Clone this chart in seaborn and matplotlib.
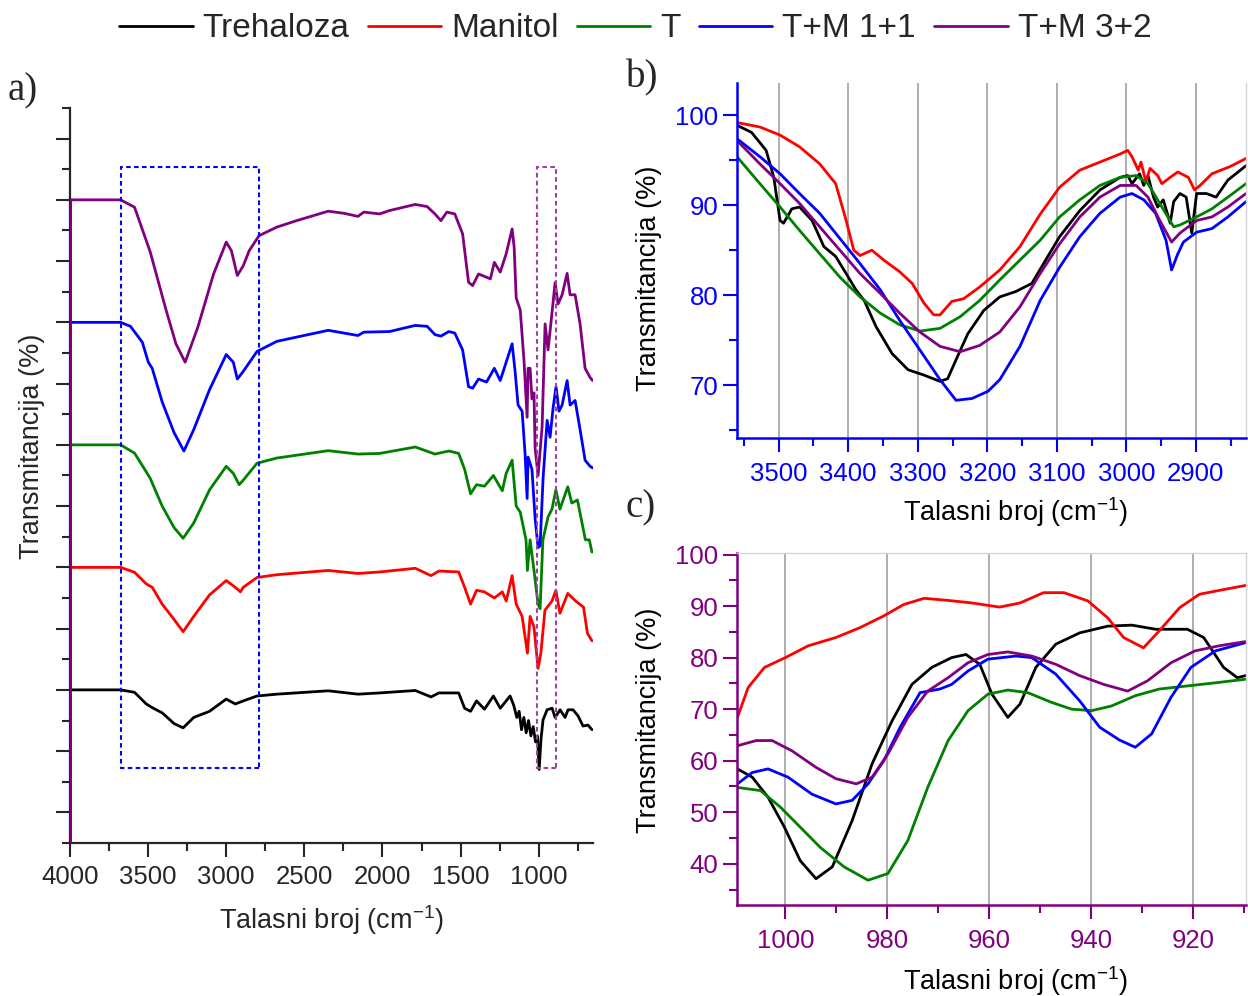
import numpy as np
import pandas as pd
import matplotlib
matplotlib.use("Agg")
import matplotlib.pyplot as plt
import seaborn as sns
from matplotlib.ticker import MultipleLocator, FixedLocator, NullFormatter
from matplotlib.patches import Rectangle
from matplotlib.lines import Line2D

# ---------------- data ----------------
SERIES = ["Trehaloza", "Manitol", "T", "T+M 1+1", "T+M 3+2"]
COLORS = ["#000000", "#FF0000", "#008000", "#0000FF", "#800080"]
OFFSETS_A = [5, 9, 13, 17, 21]          # stacking offsets in panel a (arb. units)

# panel a: wavenumber and deviation from each trace's baseline
A_BLACK_WN = [4000, 3676, 3587, 3512, 3474, 3410, 3334, 3276, 3208, 3107, 3000, 2942, 2891, 2803, 2676,
              2347, 2157, 2018, 1790, 1689, 1639, 1512, 1474, 1436, 1398, 1347, 1290, 1246, 1183, 1160,
              1140, 1125, 1110, 1095, 1080, 1065, 1050, 1035, 1020, 1008, 997, 985, 972, 946, 914, 895,
              863, 831, 812, 780, 748, 716, 684, 659]
A_BLACK_Y = [0, 0, -0.08, -0.46, -0.58, -0.75, -1.1, -1.24, -0.9, -0.7, -0.3, -0.46, -0.36, -0.2, -0.14,
             -0.03, -0.14, -0.1, -0.02, -0.23, -0.1, -0.1, -0.6, -0.7, -0.36, -0.63, -0.2, -0.6, -0.2, -0.5,
             -0.9, -0.7, -1.3, -0.9, -1.4, -1.0, -1.5, -1.2, -1.7, -1.5, -2.6, -1.6, -0.98, -0.65, -0.6, -0.9,
             -0.65, -0.9, -0.65, -0.65, -0.85, -1.18, -1.15, -1.3]

A_RED_WN = [4000, 3676, 3587, 3512, 3474, 3410, 3334, 3276, 3208, 3107, 3000, 2942, 2909, 2891, 2803,
            2676, 2347, 2157, 2018, 1790, 1689, 1639, 1512, 1474, 1436, 1398, 1347, 1284, 1233, 1208,
            1170, 1144, 1106, 1072, 1055, 1030, 1004, 986, 960, 915, 890, 864, 814, 763, 713, 688, 659]
A_RED_Y = [0, 0, -0.16, -0.54, -0.65, -1.2, -1.7, -2.1, -1.6, -0.9, -0.43, -0.65, -0.8, -0.65, -0.33,
           -0.24, -0.1, -0.2, -0.15, -0.03, -0.27, -0.12, -0.15, -0.65, -1.2, -0.75, -0.8, -1.0, -0.8, -1.1,
           -0.27, -1.2, -1.6, -2.8, -1.6, -1.95, -3.3, -2.8, -1.4, -1.1, -0.75, -1.5, -0.85, -1.1, -1.3,
           -2.15, -2.4]

A_GREEN_WN = [4000, 3676, 3587, 3512, 3486, 3410, 3334, 3276, 3208, 3107, 3000, 2955, 2917, 2891, 2803,
              2676, 2347, 2157, 2018, 1790, 1664, 1575, 1512, 1474, 1436, 1398, 1347, 1290, 1233, 1208,
              1170, 1144, 1118, 1081, 1072, 1055, 1030, 1004, 991, 973, 940, 915, 890, 864, 814, 788,
              752, 701, 676, 659]
A_GREEN_Y = [0, 0, -0.27, -0.88, -1.1, -2.0, -2.7, -3.05, -2.55, -1.47, -0.7, -0.93, -1.3, -1.15, -0.6,
             -0.43, -0.19, -0.3, -0.28, -0.07, -0.3, -0.2, -0.28, -0.8, -1.6, -1.3, -1.35, -1.0, -1.5, -0.93,
             -0.5, -2.0, -2.2, -3.1, -4.1, -3.1, -4.1, -5.2, -5.35, -3.1, -2.35, -2.1, -1.47, -2.1, -1.37,
             -1.9, -1.8, -3.1, -3.1, -3.5]

A_BLUE_WN = [4000, 3676, 3613, 3537, 3499, 3474, 3410, 3334, 3271, 3208, 3107, 3000, 2955, 2929, 2891,
             2803, 2676, 2347, 2157, 2119, 1955, 1790, 1714, 1664, 1626, 1575, 1537, 1487, 1449, 1423,
             1385, 1334, 1284, 1246, 1208, 1170, 1151, 1132, 1106, 1087, 1074, 1068, 1043, 1023, 1004,
             991, 972, 946, 927, 908, 889, 870, 850, 818, 799, 767, 735, 703, 671, 655]
A_BLUE_Y = [0, 0, -0.13, -0.65, -1.3, -1.5, -2.6, -3.6, -4.2, -3.5, -2.2, -1.05, -1.3, -1.85, -1.6,
            -0.95, -0.62, -0.26, -0.43, -0.32, -0.3, -0.1, -0.13, -0.4, -0.45, -0.3, -0.35, -0.9, -2.1, -2.15,
            -1.85, -1.95, -1.5, -1.9, -1.3, -0.7, -1.6, -2.7, -2.9, -4.3, -5.75, -4.4, -4.8, -6.4, -7.35,
            -7.3, -5.1, -3.2, -3.75, -2.8, -2.1, -2.9, -2.7, -1.9, -2.7, -2.55, -3.5, -4.5, -4.7, -4.75]

A_PURPLE_WN = [4000, 3676, 3587, 3512, 3486, 3385, 3322, 3263, 3182, 3081, 3000, 2967, 2929, 2891, 2853,
               2790, 2676, 2550, 2347, 2246, 2157, 2119, 2018, 1955, 1790, 1714, 1664, 1626, 1588, 1537,
               1487, 1449, 1423, 1385, 1347, 1309, 1284, 1246, 1208, 1170, 1157, 1144, 1118, 1094, 1074,
               1068, 1055, 1043, 1030, 1023, 1004, 978, 959, 940, 914, 895, 876, 850, 818, 799, 767, 735,
               703, 671, 655]
A_PURPLE_Y = [0, 0, -0.24, -1.33, -1.71, -3.6, -4.7, -5.3, -4.16, -2.42, -1.38, -1.66, -2.47, -2.15, -1.66,
              -1.17, -0.89, -0.68, -0.37, -0.44, -0.54, -0.40, -0.46, -0.35, -0.15, -0.22, -0.46, -0.68, -0.40,
              -0.46, -1.11, -2.69, -2.8, -2.42, -2.5, -2.58, -2.04, -2.36, -1.76, -0.95, -1.55, -3.2, -3.6,
              -5.25, -7.1, -5.5, -5.5, -6.5, -6.3, -8.1, -9.0, -7.4, -4.05, -4.9, -3.65, -2.7, -3.4, -3.1,
              -2.4, -3.1, -3.1, -4.05, -5.5, -5.8, -5.9]

# zoom boxes in panel a (wavenumber range, y range)
BOX_OH = (3676, 2790)
BOX_FP = (1008, 891)
BOX_Y = (2.45, 22.06)

# panel b (OH region), transmittance %
B_BLACK_WN = [3560, 3539, 3518, 3507, 3498, 3493, 3481, 3470, 3452, 3435, 3418, 3403, 3389, 3377, 3360,
              3337, 3314, 3291, 3268, 3257, 3245, 3228, 3205, 3182, 3159, 3136, 3113, 3096, 3067, 3038,
              3009, 2998, 2992, 2981, 2975, 2969, 2961, 2955, 2947, 2937, 2932, 2923, 2914, 2906, 2899,
              2885, 2871, 2854, 2828]
B_BLACK_T = [98.9, 98.1, 96.1, 93.1, 88.3, 88.0, 89.6, 89.8, 88.3, 85.4, 84.3, 82.4, 80.6, 79.4, 76.5,
             73.5, 71.7, 71.1, 70.4, 70.7, 72.8, 75.7, 78.3, 79.8, 80.4, 81.3, 84.3, 86.5, 89.4, 91.7,
             93.1, 93.3, 92.4, 93.5, 92.2, 93.3, 90.9, 89.8, 90.6, 88.0, 90.4, 91.3, 90.9, 86.9, 91.3,
             91.3, 90.9, 92.8, 94.4]
B_RED_WN = [3560, 3527, 3498, 3470, 3441, 3418, 3403, 3392, 3383, 3366, 3349, 3326, 3308, 3291, 3277,
            3268, 3251, 3234, 3211, 3182, 3153, 3124, 3096, 3067, 3038, 3009, 2998, 2992, 2983, 2979,
            2972, 2966, 2955, 2949, 2937, 2926, 2911, 2902, 2894, 2877, 2851, 2828]
B_RED_T = [99.2, 98.7, 97.8, 96.5, 94.6, 92.4, 88.3, 85.0, 84.4, 85.0, 83.9, 82.6, 81.3, 79.1, 77.8,
           77.8, 79.3, 79.6, 80.9, 82.8, 85.4, 89.0, 92.0, 93.9, 94.8, 95.7, 96.1, 95.4, 93.9, 94.8,
           92.6, 94.1, 93.3, 92.4, 93.1, 93.7, 93.1, 91.7, 92.2, 93.5, 94.3, 95.2]
B_GREEN_WN = [3560, 3527, 3498, 3470, 3441, 3412, 3383, 3354, 3326, 3297, 3268, 3239, 3211, 3182, 3153,
              3124, 3096, 3067, 3038, 3009, 2986, 2969, 2952, 2932, 2923, 2899, 2877, 2854, 2828]
B_GREEN_T = [95.4, 92.4, 89.8, 87.2, 84.6, 82.0, 79.8, 78.0, 76.7, 76.0, 76.3, 77.6, 79.4, 81.7, 83.9,
             86.1, 88.7, 90.6, 92.2, 93.1, 93.3, 92.4, 90.2, 87.6, 87.8, 88.7, 89.6, 90.9, 92.4]
B_BLUE_WN = [3560, 3527, 3498, 3470, 3441, 3412, 3383, 3354, 3326, 3297, 3268, 3245, 3222, 3199, 3182,
             3153, 3124, 3096, 3067, 3038, 3009, 2992, 2975, 2958, 2943, 2935, 2926, 2918, 2899, 2877,
             2854, 2828]
B_BLUE_T = [97.4, 95.4, 93.5, 91.3, 89.1, 86.3, 83.5, 80.6, 77.2, 73.9, 70.6, 68.3, 68.5, 69.3, 70.6,
            74.3, 79.4, 83.1, 86.5, 89.1, 90.9, 91.3, 90.6, 89.1, 86.1, 82.8, 84.6, 85.9, 87.0, 87.4,
            88.7, 90.4]
B_PURPLE_WN = [3560, 3527, 3498, 3470, 3441, 3412, 3383, 3354, 3326, 3297, 3268, 3239, 3211, 3182, 3153,
               3124, 3096, 3067, 3038, 3009, 2986, 2969, 2952, 2935, 2923, 2899, 2877, 2854, 2828]
B_PURPLE_T = [97.2, 94.6, 92.4, 90.2, 87.6, 85.0, 82.4, 80.2, 78.0, 75.9, 74.3, 73.7, 74.4, 75.9, 78.7,
              82.4, 85.7, 88.7, 90.9, 92.2, 92.2, 90.9, 88.3, 85.9, 86.9, 88.3, 88.7, 89.8, 91.3]

# panel c (fingerprint region), transmittance %
C_BLACK_WN = [1009.4, 1006.5, 1003.4, 1000.2, 997.1, 994.0, 990.8, 986.9, 983.0, 979.1, 975.2, 971.3,
              967.4, 964.6, 961.9, 959.5, 956.4, 954.0, 950.9, 947.0, 942.3, 936.8, 932.1, 927.4, 921.2,
              918.0, 914.1, 911.4, 909.8]
C_BLACK_T = [58.4, 56.8, 52.9, 47.1, 40.6, 37.1, 39.4, 48.4, 59.4, 67.7, 74.8, 78.1, 80.0, 80.6, 78.7,
             72.9, 68.4, 71.0, 78.1, 82.6, 84.8, 86.1, 86.3, 85.5, 85.5, 83.9, 78.1, 76.1, 76.5]
C_RED_WN = [1009.4, 1007.3, 1004.1, 1000.0, 995.5, 990.1, 985.4, 980.7, 976.8, 972.8, 968.1, 963.4, 958.0,
            954.0, 949.4, 945.4, 940.7, 936.8, 933.7, 929.8, 926.7, 922.7, 918.8, 914.1, 909.8]
C_RED_T = [68.4, 74.2, 78.1, 80.0, 82.3, 83.9, 85.8, 88.1, 90.3, 91.5, 91.1, 90.6, 89.8, 90.6, 92.6, 92.6,
           91.0, 87.7, 83.9, 81.9, 85.2, 89.7, 92.3, 93.2, 94.0]
C_GREEN_WN = [1009.4, 1004.9, 1001.0, 997.1, 993.2, 988.5, 983.8, 979.9, 976.0, 972.1, 968.1, 964.2, 960.3,
              956.4, 952.5, 947.8, 943.9, 940.0, 936.1, 931.4, 926.7, 921.2, 914.9, 909.8]
C_GREEN_T = [54.8, 54.2, 51.0, 47.1, 43.2, 39.4, 36.8, 38.1, 44.5, 54.8, 63.9, 69.7, 72.9, 73.7, 73.2,
             71.3, 70.0, 69.7, 70.6, 72.6, 73.9, 74.5, 75.2, 75.8]
C_BLUE_WN = [1009.4, 1006.5, 1003.4, 999.5, 994.8, 990.1, 986.9, 983.8, 980.7, 977.5, 973.6, 969.7, 967.4,
             964.2, 960.3, 954.8, 951.7, 947.0, 942.3, 938.4, 934.5, 931.4, 928.2, 924.4, 920.5, 915.7, 909.8]
C_BLUE_T = [55.5, 57.7, 58.4, 56.8, 53.5, 51.6, 52.3, 55.5, 60.0, 66.5, 73.2, 73.9, 74.8, 77.4, 79.7,
            80.3, 80.0, 76.8, 71.6, 66.5, 64.0, 62.6, 65.2, 72.3, 78.1, 81.3, 82.9]
C_PURPLE_WN = [1009.4, 1005.7, 1002.6, 998.7, 994.0, 990.1, 986.1, 983.0, 979.9, 976.0, 972.1, 968.1, 964.2,
               960.3, 956.4, 951.7, 947.0, 942.3, 937.6, 932.9, 929.0, 924.4, 919.7, 914.9, 909.8]
C_PURPLE_T = [62.9, 63.9, 63.9, 61.9, 58.7, 56.5, 55.5, 56.8, 61.3, 68.4, 73.5, 76.1, 79.0, 80.6, 81.1,
              80.3, 78.7, 76.5, 74.8, 73.5, 75.5, 79.0, 81.3, 82.3, 83.1]

# ---------------- tables ----------------
A_WN = [A_BLACK_WN, A_RED_WN, A_GREEN_WN, A_BLUE_WN, A_PURPLE_WN]
A_Y = [A_BLACK_Y, A_RED_Y, A_GREEN_Y, A_BLUE_Y, A_PURPLE_Y]
B_WN = [B_BLACK_WN, B_RED_WN, B_GREEN_WN, B_BLUE_WN, B_PURPLE_WN]
B_T = [B_BLACK_T, B_RED_T, B_GREEN_T, B_BLUE_T, B_PURPLE_T]
C_WN = [C_BLACK_WN, C_RED_WN, C_GREEN_WN, C_BLUE_WN, C_PURPLE_WN]
C_T = [C_BLACK_T, C_RED_T, C_GREEN_T, C_BLUE_T, C_PURPLE_T]


def long_table(wns, ys, offsets=None):
    frames = []
    for i, name in enumerate(SERIES):
        y = np.asarray(ys[i], float)
        if offsets is not None:
            y = y + offsets[i]
        frames.append(pd.DataFrame({"wn": wns[i], "y": y, "series": name}))
    return pd.concat(frames, ignore_index=True)


dfA = long_table(A_WN, A_Y, OFFSETS_A)
dfB = long_table(B_WN, B_T)
dfC = long_table(C_WN, C_T)
PALETTE = dict(zip(SERIES, COLORS))

# ---------------- style ----------------
sns.set_style("ticks")
plt.rcParams["font.family"] = ["Liberation Sans", "DejaVu Sans"]
plt.rcParams["mathtext.default"] = "regular"

BLUE = "#0000FF"
PURPLE = "#800080"
XLABEL = "Talasni broj (cm$^{-1}$)"
YLABEL = "Transmitancija (%)"
TICK_FS = 18.5
LABEL_FS = 19.5

fig = plt.figure(figsize=(12.48, 9.96), dpi=100)
axA = fig.add_axes([0.0561, 0.1536, 0.4191, 0.7380])
axB = fig.add_axes([0.5905, 0.5602, 0.4079, 0.3565])
axC = fig.add_axes([0.5905, 0.0914, 0.4079, 0.3534])

for ax, df in ((axA, dfA), (axB, dfB), (axC, dfC)):
    sns.lineplot(data=df, x="wn", y="y", hue="series", hue_order=SERIES, palette=PALETTE,
                 estimator=None, sort=False, legend=False, linewidth=2.0, ax=ax)

# ---------- panel a ----------
axA.set_xlim(4000, 652)
axA.set_ylim(0, 24)
axA.axvline(A_PURPLE_WN[0], ymin=0, ymax=OFFSETS_A[4] / 24, color=PURPLE, lw=2.2, zorder=5)
for (x0, x1), col in ((BOX_OH, BLUE), (BOX_FP, "#A040A0")):
    axA.add_patch(Rectangle((min(x0, x1), BOX_Y[0]), abs(x0 - x1), BOX_Y[1] - BOX_Y[0], fill=False,
                            edgecolor=col, lw=1.5, ls=(0, (2.2, 1.6)), zorder=6))
axA.xaxis.set_major_locator(MultipleLocator(500))
axA.xaxis.set_minor_locator(MultipleLocator(250))
axA.yaxis.set_major_locator(FixedLocator(list(range(1, 24, 2))))
axA.yaxis.set_minor_locator(FixedLocator(list(range(0, 25, 2))))
axA.yaxis.set_major_formatter(NullFormatter())
axA.tick_params(axis="both", which="major", direction="out", length=10, width=1.5, labelsize=TICK_FS, pad=6)
axA.tick_params(axis="both", which="minor", direction="out", length=5.5, width=1.5)
for s in ("top", "right"):
    axA.spines[s].set_visible(False)
for s in ("left", "bottom"):
    axA.spines[s].set_linewidth(1.6)
axA.set_xlabel(XLABEL, fontsize=LABEL_FS)
axA.set_ylabel(YLABEL, fontsize=LABEL_FS)
axA.xaxis.set_label_coords(0.50, -0.082)
axA.yaxis.set_label_coords(-0.048, 0.54)


def style_zoom(ax, col, xlim, ylim, xmaj, xmin, ymaj, ymin, ylab_y, xlab_y):
    ax.set_xlim(*xlim)
    ax.set_ylim(*ylim)
    ax.xaxis.set_major_locator(MultipleLocator(xmaj))
    ax.xaxis.set_minor_locator(MultipleLocator(xmin))
    ax.yaxis.set_major_locator(MultipleLocator(ymaj))
    ax.yaxis.set_minor_locator(MultipleLocator(ymin))
    ax.tick_params(axis="both", which="both", colors=col, direction="out", width=1.5, labelsize=TICK_FS)
    ax.tick_params(axis="both", which="major", length=10)
    ax.tick_params(axis="x", which="major", pad=7)
    ax.tick_params(axis="both", which="minor", length=5.5)
    ax.grid(True, axis="x", which="major", color="#A8A8A8", lw=1.3)
    ax.set_axisbelow(True)
    for s in ("left", "bottom"):
        ax.spines[s].set_color(col)
        ax.spines[s].set_linewidth(1.8)
    for s in ("top", "right"):
        ax.spines[s].set_color("#D4D4D4")
        ax.spines[s].set_linewidth(1.0)
    ax.set_xlabel(XLABEL, fontsize=LABEL_FS, color="black")
    ax.set_ylabel(YLABEL, fontsize=LABEL_FS, color="black")
    ax.xaxis.set_label_coords(0.548, xlab_y)
    ax.yaxis.set_label_coords(-0.148, ylab_y)


style_zoom(axB, BLUE, (3560, 2828), (64.1, 103.6), 100, 50, 10, 5, 0.45, -0.162)
axB.spines["top"].set_visible(False)
style_zoom(axC, PURPLE, (1009.5, 909.7), (32.0, 100.3), 20, 10, 10, 5, 0.526, -0.168)

# ---------- panel letters ----------
for txt, x, y in (("a)", 0.0064, 0.9086), ("b)", 0.5016, 0.9217), ("c)", 0.5016, 0.4900)):
    fig.text(x, y, txt, family=["Liberation Serif", "DejaVu Serif"], fontsize=28, ha="left", va="center")

# ---------- legend ----------
handles = [Line2D([], [], color=c, lw=2.0) for c in COLORS]
fig.legend(handles, SERIES, loc="center", bbox_to_anchor=(0.509, 0.971), ncol=5, frameon=False,
           fontsize=24, handlelength=2.2, handletextpad=0.3, columnspacing=0.55, borderaxespad=0)

fig.savefig("out.png", dpi=100)
